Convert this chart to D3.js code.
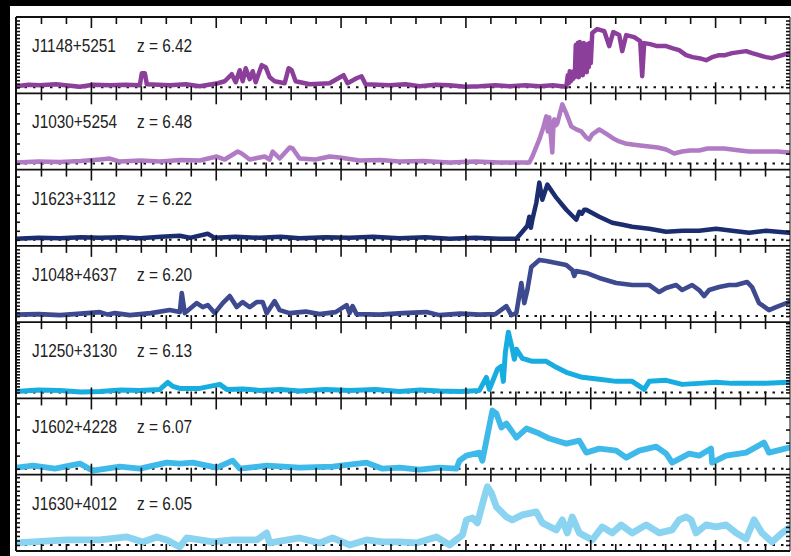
<!DOCTYPE html>
<html>
<head>
<meta charset="utf-8">
<script src="https://cdn.jsdelivr.net/npm/d3@7/dist/d3.min.js"></script>
<style>
  html, body { margin: 0; padding: 0; background: #000; }
  svg { display: block; }
  .label { font-family: 'Liberation Sans', Arial, sans-serif; font-size: 19px; fill: #222; }
</style>
</head>
<body>
<svg id="chart" width="791" height="556"></svg>
<script>
// Quasar names and redshifts, one panel each (top to bottom)
const names = ["J1148+5251", "J1030+5254", "J1623+3112", "J1048+4637", "J1250+3130", "J1602+4228", "J1630+4012"];
const redshifts = ["6.42", "6.48", "6.22", "6.20", "6.13", "6.07", "6.05"];
const colors = ["#8b3f9b", "#b07ac4", "#1b2d6e", "#3d4a8f", "#17ade1", "#3eb9ea", "#8ad3f1"];
const lineWidths = [4.5, 4.5, 4.5, 4.6, 5, 5.8, 6.8];
const yTickSteps = [0.35, 1.0, 0.9, 0.35, 0.3, 1.3, 0.45];

// Observed wavelength axis (Angstrom)
const waveDomain = [6700, 9800];
const waveTicks = d3.range(6800, 9800, 100);

// Spectra: [wavelength (A), flux]
const specJ1148 = [[6700,0.1],[6750,0.25],[6796,0.2],[6860,0.3],[6956,0.05],[7010,0.25],[7076,0.2],[7136,0.25],[7196,0.2],[7204,1.4],[7216,1.4],[7224,0.3],[7316,0.2],[7380,0.3],[7436,0.1],[7508,0.4],[7536,0.6],[7564,1.3],[7580,0.5],[7596,1.7],[7608,0.6],[7620,1.9],[7636,0.8],[7648,1.6],[7660,0.5],[7684,2.2],[7700,2.0],[7716,1.0],[7736,0.6],[7776,0.4],[7792,1.9],[7804,1.7],[7820,0.6],[7876,0.3],[7956,0.4],[8012,1.2],[8028,0.4],[8064,0.9],[8084,1.1],[8100,0.3],[8196,0.2],[8260,0.3],[8316,0.1],[8380,0.25],[8436,0.2],[8500,0.05],[8556,0.1],[8620,0.2],[8676,0.1],[8740,0.2],[8796,0.1],[8850,0.2],[8904,0.05],[8910,1.2],[8914,0.4],[8918,1.6],[8922,0.6],[8926,1.5],[8930,0.8],[8934,1.6],[8938,1.0],[8942,4.2],[8946,1.2],[8950,4.4],[8954,1.0],[8958,4.5],[8962,1.4],[8966,4.3],[8970,1.2],[8974,4.4],[8978,1.8],[8982,4.2],[8986,1.5],[8990,4.3],[8994,2.0],[8998,4.4],[9002,2.4],[9008,5.4],[9028,5.8],[9056,5.6],[9076,4.1],[9092,5.5],[9116,5.2],[9128,3.6],[9144,5.2],[9176,5.0],[9200,4.6],[9208,1.1],[9216,4.4],[9240,4.3],[9268,4.1],[9304,4.1],[9328,3.9],[9356,3.7],[9384,3.2],[9410,3.0],[9436,2.9],[9464,2.7],[9488,3.0],[9516,3.2],[9540,3.2],[9568,3.4],[9596,3.5],[9624,3.6],[9648,3.4],[9676,3.2],[9704,3.0],[9728,2.9],[9756,3.1],[9796,3.4]];
const specJ1030 = [[6700,0.1],[6790,0.2],[6876,0.15],[6960,0.25],[7036,0.4],[7076,0.5],[7116,0.2],[7200,0.3],[7276,0.2],[7360,0.35],[7436,0.3],[7504,0.7],[7536,0.4],[7588,1.2],[7604,1.0],[7636,0.4],[7696,0.7],[7716,0.4],[7728,1.2],[7756,0.5],[7796,1.6],[7808,1.5],[7836,0.5],[7900,0.4],[7956,0.7],[7996,0.6],[8076,0.3],[8160,0.35],[8236,0.2],[8330,0.25],[8436,0.1],[8540,0.2],[8636,0.1],[8756,0.1],[8768,0.7],[8796,2.4],[8812,3.6],[8824,4.7],[8830,3.2],[8836,4.6],[8842,2.8],[8848,1.1],[8852,3.5],[8856,4.4],[8862,3.8],[8868,4.0],[8888,5.9],[8904,5.0],[8924,3.7],[8944,3.4],[8964,3.2],[8984,2.6],[8996,2.4],[9008,2.9],[9036,3.4],[9068,2.9],[9092,2.5],[9116,2.2],[9140,2.0],[9168,1.9],[9200,1.8],[9236,1.7],[9270,1.6],[9304,1.4],[9336,1.0],[9368,1.2],[9400,1.3],[9436,1.3],[9470,1.5],[9504,1.5],[9536,1.5],[9568,1.4],[9600,1.3],[9636,1.2],[9704,1.2],[9750,1.2],[9796,1.1]];
const specJ1623 = [[6700,0.1],[6790,0.2],[6876,0.15],[6960,0.25],[7036,0.2],[7120,0.25],[7196,0.15],[7280,0.3],[7356,0.4],[7396,0.2],[7468,0.6],[7496,0.2],[7580,0.3],[7676,0.2],[7760,0.3],[7836,0.15],[7940,0.25],[8036,0.2],[8130,0.3],[8236,0.15],[8340,0.25],[8436,0.1],[8540,0.2],[8636,0.1],[8704,0.1],[8728,0.8],[8748,1.4],[8756,2.3],[8762,1.2],[8768,2.0],[8784,3.7],[8796,5.7],[8808,4.0],[8828,5.5],[8864,4.2],[8904,3.0],[8944,2.0],[8956,2.8],[8966,2.6],[8976,3.0],[8984,3.0],[9036,2.3],[9088,1.7],[9130,1.5],[9168,1.3],[9236,1.1],[9304,0.8],[9370,0.9],[9436,0.9],[9504,1.1],[9568,0.9],[9636,0.7],[9704,0.9],[9796,0.7]];
const specJ1048 = [[6700,0.15],[6790,0.2],[6876,0.1],[6960,0.25],[7036,0.4],[7068,0.15],[7096,0.3],[7156,0.1],[7240,0.3],[7316,0.6],[7356,0.4],[7364,2.3],[7376,0.3],[7424,1.3],[7448,0.9],[7468,1.1],[7496,0.3],[7528,1.3],[7556,2.0],[7584,0.9],[7608,1.4],[7636,0.9],[7664,1.4],[7688,1.4],[7704,0.3],[7736,1.5],[7756,0.6],[7796,0.3],[7860,0.45],[7916,0.2],[7980,0.4],[8024,1.1],[8036,0.3],[8048,1.0],[8064,0.2],[8156,0.15],[8250,0.3],[8344,0.4],[8396,0.1],[8480,0.25],[8556,0.15],[8620,0.2],[8664,1.0],[8684,0.1],[8704,0.3],[8724,3.3],[8736,1.3],[8748,2.6],[8764,4.9],[8796,5.6],[8824,5.5],[8864,5.3],[8904,5.1],[8928,4.6],[8936,4.0],[8944,4.5],[8984,4.3],[9036,3.8],[9104,3.3],[9168,3.1],[9236,3.1],[9276,2.4],[9304,2.8],[9344,3.1],[9368,2.6],[9408,3.1],[9436,2.6],[9456,2.0],[9476,2.6],[9516,2.9],[9556,3.1],[9584,3.1],[9628,3.4],[9648,2.9],[9676,1.3],[9716,0.6],[9744,0.9],[9796,1.4]];
const specJ1250 = [[6700,0.1],[6790,0.25],[6876,0.2],[6960,0.05],[7036,0.1],[7120,0.25],[7196,0.2],[7276,0.3],[7308,1.0],[7328,0.6],[7356,0.4],[7436,0.4],[7516,0.8],[7544,0.3],[7610,0.35],[7676,0.2],[7760,0.3],[7836,0.15],[7940,0.3],[8036,0.2],[8140,0.3],[8236,0.1],[8320,0.25],[8396,0.15],[8480,0.1],[8556,0.2],[8584,1.5],[8596,0.3],[8628,2.3],[8644,2.6],[8652,1.1],[8660,4.0],[8672,6.0],[8688,4.3],[8696,3.3],[8704,4.3],[8728,3.4],[8768,3.1],[8824,3.1],[8864,2.5],[8904,2.0],[8968,1.5],[9036,1.3],[9104,1.1],[9168,1.1],[9216,0.3],[9236,1.1],[9304,1.2],[9368,0.8],[9436,0.9],[9504,1.0],[9568,0.9],[9704,0.9],[9796,1.0]];
const specJ1602 = [[6700,0.1],[6768,0.3],[6856,0.0],[6956,0.5],[7008,-0.2],[7116,0.2],[7196,0.0],[7304,0.6],[7356,0.5],[7408,0.6],[7504,0.1],[7568,0.8],[7596,0.0],[7704,0.3],[7836,0.1],[7968,0.2],[8104,0.6],[8168,0.0],[8236,0.1],[8316,-0.1],[8396,0.1],[8464,0.0],[8476,0.8],[8504,1.3],[8556,1.6],[8568,0.8],[8584,2.8],[8608,5.8],[8624,5.5],[8644,4.1],[8664,4.5],[8704,3.1],[8744,4.0],[8796,3.5],[8836,3.0],[8904,2.5],[8956,2.8],[8984,1.6],[9036,2.0],[9104,1.8],[9144,1.1],[9196,1.8],[9264,2.2],[9304,1.5],[9328,0.6],[9396,1.5],[9436,1.3],[9484,2.0],[9488,0.6],[9544,1.3],[9624,1.6],[9696,2.6],[9716,1.6],[9796,2.1]];
const specJ1630 = [[6700,0.2],[6768,0.3],[6904,0.5],[7036,0.5],[7144,0.8],[7208,0.3],[7264,0.8],[7304,0.5],[7356,-0.2],[7384,0.7],[7488,0.3],[7568,0.5],[7664,0.5],[7704,1.2],[7716,0.2],[7836,0.7],[7916,0.2],[7968,0.7],[8036,0.0],[8104,0.5],[8168,0.3],[8236,0.3],[8304,0.2],[8384,0.8],[8436,0.0],[8488,1.0],[8504,2.5],[8528,2.7],[8548,2.2],[8576,4.8],[8588,5.8],[8604,5.2],[8624,3.8],[8664,2.8],[8688,2.5],[8728,3.0],[8784,3.3],[8808,2.2],[8864,1.5],[8888,2.5],[8908,1.2],[8928,2.8],[8956,1.2],[9008,0.5],[9048,1.8],[9088,1.2],[9124,2.0],[9168,1.2],[9224,2.0],[9276,1.2],[9328,1.5],[9356,2.5],[9384,2.8],[9404,2.5],[9424,1.2],[9464,2.0],[9504,1.8],[9544,2.0],[9584,1.2],[9624,0.6],[9656,2.5],[9688,1.2],[9728,0.3],[9768,1.2],[9796,1.7]];

const spectra = [specJ1148, specJ1030, specJ1623, specJ1048, specJ1250, specJ1602, specJ1630];

// ---- layout ----
const W = 791, H = 556;
const plotLeft = 16, plotRight = 790, plotTop = 17, plotBottom = 551;
const nP = names.length;
const ph = (plotBottom - plotTop) / nP;
const labelScaleX = 0.81;

const svg = d3.select("#chart");
svg.append("rect").attr("x", 10).attr("y", 6).attr("width", W - 10).attr("height", H - 6).attr("fill", "#fff");

const x = d3.scaleLinear().domain(waveDomain).range([plotLeft, plotRight]);
const defs = svg.append("defs");

function styleTicks(sel) {
  sel.select(".domain").remove();
  sel.selectAll("text").remove();
  sel.selectAll(".tick line").attr("stroke", "#111").attr("stroke-width", 1.6);
}

spectra.forEach((spec, i) => {
  const y0 = plotTop + i * ph, y1 = y0 + ph;
  const y = d3.scaleLinear().domain([-0.6, 7.0]).range([y1, y0]);
  const g = svg.append("g").attr("class", "panel");

  defs.append("clipPath").attr("id", "clip" + i)
    .append("rect").attr("x", plotLeft).attr("y", y0).attr("width", plotRight - plotLeft).attr("height", ph);

  // zero-flux reference
  g.append("line")
    .attr("x1", plotLeft).attr("x2", plotRight)
    .attr("y1", y(0)).attr("y2", y(0))
    .attr("stroke", "#111").attr("stroke-width", 2)
    .attr("stroke-dasharray", "2.5,6");

  // spectrum
  const line = d3.line().x(d => x(d[0])).y(d => y(d[1]));
  g.append("path")
    .datum(spec)
    .attr("clip-path", `url(#clip${i})`)
    .attr("d", line)
    .attr("fill", "none")
    .attr("stroke", colors[i])
    .attr("stroke-width", lineWidths[i])
    .attr("stroke-linejoin", "round")
    .attr("stroke-linecap", "round");

  // label
  const lab = g.append("text").attr("class", "label")
    .attr("transform", `translate(32,${y0 + 35}) scale(${labelScaleX},1)`);
  lab.append("tspan").attr("x", 0).text(names[i]);
  lab.append("tspan").attr("x", (137 - 32) / labelScaleX).text("z = " + redshifts[i]);
});

// panel frames
const frame = svg.append("g").attr("stroke", "#111").attr("fill", "none");
d3.range(nP + 1).forEach(k => {
  frame.append("line").attr("x1", plotLeft).attr("x2", plotRight)
    .attr("y1", plotTop + k * ph).attr("y2", plotTop + k * ph).attr("stroke-width", 1.8);
});
frame.append("line").attr("x1", plotLeft).attr("x2", plotLeft).attr("y1", plotTop).attr("y2", plotBottom).attr("stroke-width", 2);
frame.append("line").attr("x1", plotRight).attr("x2", plotRight).attr("y1", plotTop).attr("y2", plotBottom).attr("stroke-width", 1);

// tick marks on every panel edge, pointing inward (drawn above the frames)
const tickLayer = svg.append("g");
d3.range(nP).forEach(i => {
  const y0 = plotTop + i * ph, y1 = y0 + ph;
  const y = d3.scaleLinear().domain([-0.6, 7.0]).range([y1, y0]);

  const axTop = tickLayer.append("g").attr("transform", `translate(0,${y0})`)
    .call(d3.axisBottom(x).tickValues(waveTicks).tickSize(7).tickFormat(""));
  styleTicks(axTop);
  axTop.selectAll(".tick line").filter(d => d % 500 === 0).attr("y2", 11);

  const axBot = tickLayer.append("g").attr("transform", `translate(0,${y1})`)
    .call(d3.axisTop(x).tickValues(waveTicks).tickSize(7).tickFormat(""));
  styleTicks(axBot);
  axBot.selectAll(".tick line").filter(d => d % 500 === 0).attr("y2", -11);

  const yt = d3.range(0, 6.9, yTickSteps[i]);
  const axL = tickLayer.append("g").attr("transform", `translate(${plotLeft},0)`)
    .call(d3.axisRight(y).tickValues(yt).tickSize(4).tickFormat(""));
  styleTicks(axL);
  const axR = tickLayer.append("g").attr("transform", `translate(${plotRight},0)`)
    .call(d3.axisLeft(y).tickValues(yt).tickSize(4).tickFormat(""));
  styleTicks(axR);
});
</script>
</body>
</html>
